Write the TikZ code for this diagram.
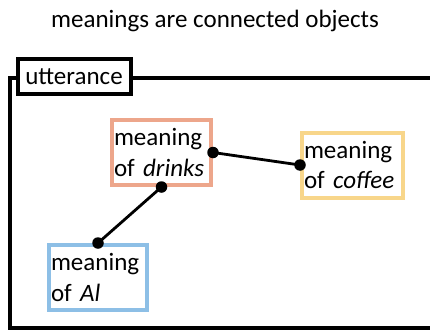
\documentclass[tikz,border=0pt]{standalone}
\usepackage{fontspec}
\setmainfont{Carlito}
\definecolor{salmon}{HTML}{EDA68B}
\definecolor{gold}{HTML}{F8D68A}
\definecolor{skyb}{HTML}{8DBFE6}
\begin{document}
\begin{tikzpicture}[x=1pt,y=-1pt,
  big/.style={font=\fontsize{25}{30.5}\selectfont},
  meaningbox/.style={big,draw,line width=4pt,fill=white,minimum height=65pt,
     inner xsep=2pt,inner ysep=0pt,align=left},
  dot/.style={circle,fill=black,inner sep=0pt,minimum size=11.5pt},
  link/.style={line width=2.8pt}]
\useasboundingbox (0,0) rectangle (430,329);
\clip (0,0) rectangle (430,329);
\fill[white] (0,0) rectangle (430,329);
\node[big,anchor=base] (title) at (215,28) {meanings are connected objects};
% frame
\draw[line width=4pt] (9.5,77.5) rectangle (445,327.5);
\node[big,draw,line width=4pt,fill=white,minimum width=113pt,minimum height=35pt,inner sep=0pt] (utt) at (74,76.5) {utterance};
% boxes
\node[meaningbox,draw=salmon,text width=95pt] (drinks) at (161.5,152.5) {meaning\\of \emph{drinks}};
\node[meaningbox,draw=gold,text width=97pt] (coffee) at (352.5,165) {meaning\\of \emph{coffee}};
\node[meaningbox,draw=skyb,text width=94pt] (al) at (98,277.5) {meaning\\of \emph{Al}};
% connectors
\draw[link] (drinks.east) -- (coffee.west);
\draw[link] (drinks.south) -- (al.north);
\node[dot] (d1) at (drinks.east) {};
\node[dot] (d2) at (coffee.west) {};
\node[dot] (d3) at (drinks.south) {};
\node[dot] (d4) at (al.north) {};
\end{tikzpicture}
\end{document}
